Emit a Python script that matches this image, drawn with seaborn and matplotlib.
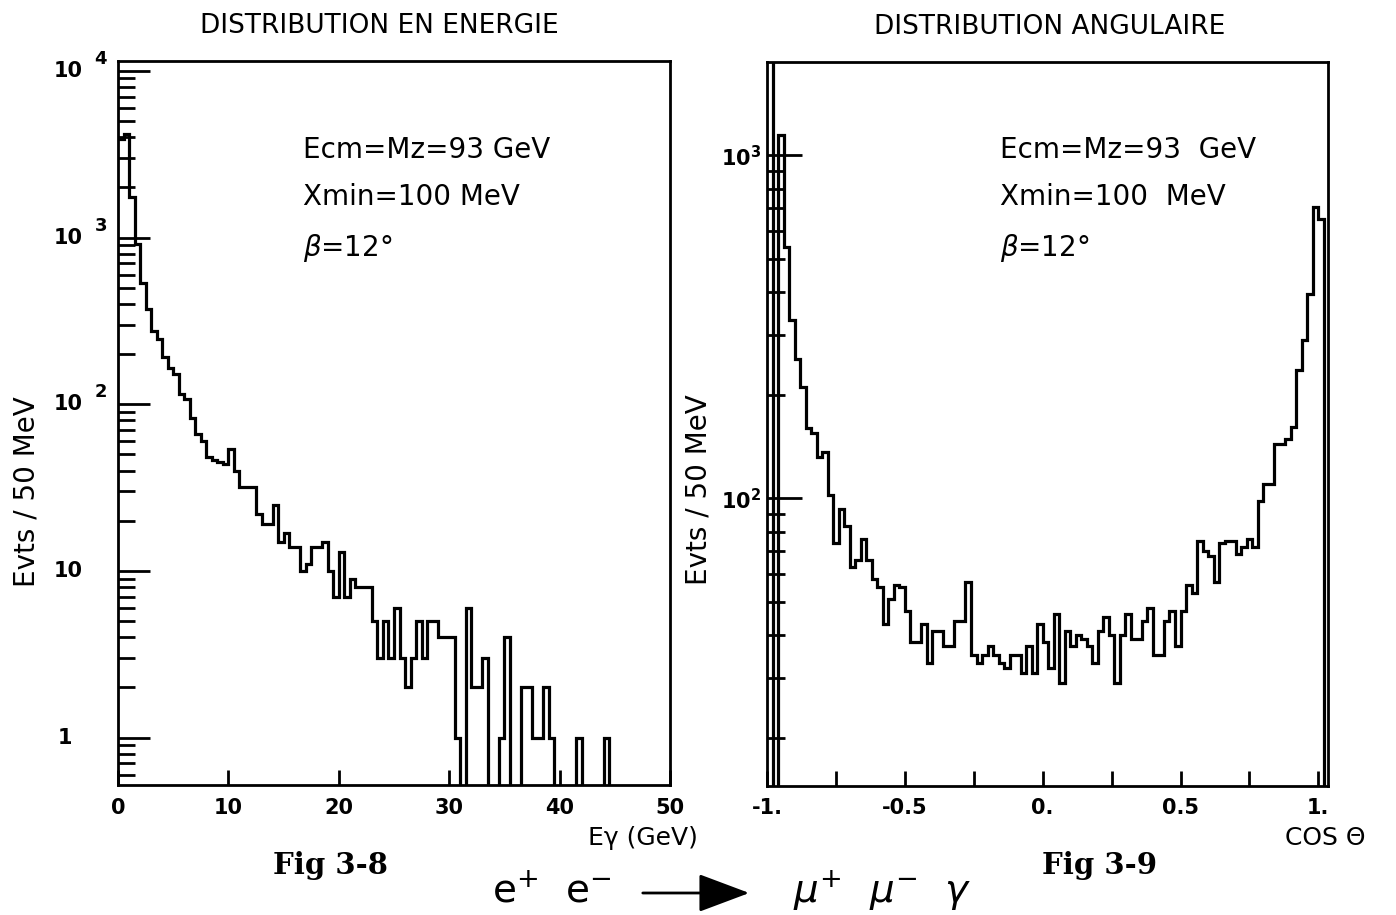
import numpy as np
import pandas as pd
import seaborn as sns
import matplotlib
matplotlib.use("Agg")
import matplotlib.pyplot as plt
from matplotlib import transforms
from matplotlib.ticker import FixedLocator, FixedFormatter, LogLocator, NullFormatter

# ---------------- Fig 3-8 : photon energy spectrum ----------------
energy_lo = 0.0          # GeV, lower edge of first bin
energy_bin_width = 0.5   # GeV
energy_counts = [
    3900, 4200, 1740, 920, 535, 375, 276, 247, 191, 166,
    151, 115, 107, 83, 66, 60, 48, 46, 45, 44,
    54, 40, 32, 32, 32, 22, 19, 19, 25, 15,
    17, 14, 14, 10, 11, 14, 14, 15, 10, 7,
    13, 7, 9, 8, 8, 8, 5, 3, 5, 3,
    6, 3, 2, 3, 5, 3, 5, 5, 4, 4,
    4, 1, 0, 6, 2, 2, 3, 0, 0, 1,
    4, 0, 0, 2, 2, 1, 1, 2, 1, 0,
    0, 0, 0, 1, 0, 0, 0, 0, 1, 0,
    0, 0, 0, 0, 0, 0, 0, 0, 0, 0,
]

# ---------------- Fig 3-9 : photon angular distribution ----------------
cos_lo = -1.0
cos_bin_width = 0.02
cos_counts = [
    3000, 0, 1144, 539, 330, 254, 211, 160, 155, 132,
    136, 102, 74, 93, 83, 63, 66, 76, 66, 58,
    55, 43, 51, 56, 55, 47, 38, 38, 43, 33,
    41, 41, 37, 37, 44, 44, 57, 35, 33, 35,
    37, 35, 33, 32, 35, 35, 31, 37, 31, 43,
    38, 32, 46, 29, 41, 37, 40, 39, 37, 33,
    41, 45, 40, 29, 40, 46, 39, 39, 44, 48,
    35, 35, 44, 47, 37, 47, 56, 53, 75, 70,
    68, 57, 74, 75, 75, 69, 72, 76, 72, 98,
    110, 110, 144, 144, 149, 161, 236, 290, 395, 707,
    654, 0,
]

energy_ticks = [0, 10, 20, 30, 40, 50]
energy_ticklabels = ["0", "10", "20", "30", "40", "50"]
cos_ticks = [-1.0, -0.75, -0.5, -0.25, 0.0, 0.25, 0.5, 0.75, 1.0]
cos_ticklabels = ["-1.", "", "-0.5", "", "0.", "", "0.5", "", "1."]

energy_decades = [1, 10, 100, 1000, 10000]
energy_decade_text = [("1", ""), ("10", ""), ("10", "2"), ("10", "3"), ("10", "4")]
cos_decades = [100, 1000]
cos_decade_text = [r"$10^{2}$", r"$10^{3}$"]

sns.set_style("white")
plt.rcParams["font.family"] = ["DejaVu Sans"]
plt.rcParams["mathtext.fontset"] = "dejavusans"
plt.rcParams["mathtext.default"] = "regular"
for key in ["text.color", "axes.labelcolor", "xtick.color", "ytick.color", "axes.edgecolor"]:
    plt.rcParams[key] = "black"

W, H = 1396, 915
fig = plt.figure(figsize=(W / 100, H / 100), dpi=100)
ax1 = fig.add_axes([118 / W, 1 - 785 / H, 552 / W, 724 / H])
ax2 = fig.add_axes([767 / W, 1 - 786 / H, 561 / W, 724 / H])

LW = 2.3


def draw_hist(ax, lo, width, counts):
    counts = np.asarray(counts, dtype=float)
    edges = (lo + width * np.arange(len(counts) + 1)).tolist()
    centers = [0.5 * (a + b) for a, b in zip(edges[:-1], edges[1:])]
    df = pd.DataFrame({"x": centers, "n": counts})
    sns.histplot(data=df, x="x", weights="n", bins=edges, element="step",
                 fill=False, color="black", linewidth=LW,
                 solid_joinstyle="miter", ax=ax)
    ax.set_yscale("log")


def frame(ax):
    for s in ax.spines.values():
        s.set_visible(True)
        s.set_color("black")
        s.set_linewidth(2.0)
    ax.grid(False)


# ---- left panel ----
draw_hist(ax1, energy_lo, energy_bin_width, energy_counts)
frame(ax1)
ax1.set_xlim(0, 50)
ax1.set_ylim(0.52, 11460)
ax1.yaxis.set_major_locator(FixedLocator(energy_decades))
ax1.yaxis.set_minor_locator(LogLocator(base=10, subs=np.arange(2, 10) * 1.0, numticks=50))
ax1.yaxis.set_major_formatter(NullFormatter())
ax1.yaxis.set_minor_formatter(NullFormatter())
ax1.tick_params(axis="y", which="major", direction="in", length=23, width=2.0,
                left=True, right=False)
ax1.tick_params(axis="y", which="minor", direction="in", length=12, width=2.0,
                left=True, right=False)
ax1.set_xticks(energy_ticks)
ax1.set_xticklabels(energy_ticklabels)
ax1.tick_params(axis="x", which="major", direction="in", length=11, width=2.0,
                bottom=True, top=False, labelsize=15, pad=9)
for t in ax1.get_xticklabels():
    t.set_fontweight("bold")

ylab_tr = transforms.blended_transform_factory(ax1.transAxes, ax1.transData)
expo_tr = transforms.offset_copy(ylab_tr, fig=fig, y=12, units="dots")
for v, (base, expo) in zip(energy_decades, energy_decade_text):
    xpos = -0.083 if base == "1" else -0.064
    ax1.text(xpos, v, base, transform=ylab_tr, ha="right", va="center",
             fontsize=15, fontweight="bold")
    if expo:
        ax1.text(-0.031, v, expo, transform=expo_tr, ha="center", va="center",
                 fontsize=13, fontweight="bold")

ax1.set_ylabel("Evts / 50 MeV", fontsize=20)
ax1.yaxis.set_label_coords(-0.141, 0.405)
ax1.set_xlabel("Eγ (GeV)", fontsize=18)
ax1.xaxis.set_label_coords(0.951, -0.057)

for y, s in [(0.877, "Ecm=Mz=93 GeV"), (0.812, "Xmin=100 MeV"),
             (0.742, r"$\mathit{\beta}$=12°")]:
    ax1.text(0.335, y, s, transform=ax1.transAxes, ha="left", va="center",
             fontsize=20)

# ---- right panel ----
draw_hist(ax2, cos_lo, cos_bin_width, cos_counts)
frame(ax2)
ax2.set_xlim(-1.0, 1.035)
ax2.set_ylim(14.5, 1870)
ax2.yaxis.set_major_locator(FixedLocator(cos_decades))
ax2.yaxis.set_major_formatter(FixedFormatter(cos_decade_text))
ax2.yaxis.set_minor_locator(LogLocator(base=10, subs=np.arange(2, 10) * 1.0, numticks=50))
ax2.yaxis.set_minor_formatter(NullFormatter())
ax2.tick_params(axis="y", which="major", direction="in", length=25, width=2.0,
                left=True, right=False, labelsize=15, pad=4)
ax2.tick_params(axis="y", which="minor", direction="in", length=13, width=2.0,
                left=True, right=False)
ax2.set_xticks(cos_ticks)
ax2.set_xticklabels(cos_ticklabels)
ax2.tick_params(axis="x", which="major", direction="in", length=11, width=2.0,
                bottom=True, top=False, labelsize=15, pad=9)
for t in ax2.get_xticklabels() + ax2.get_yticklabels():
    t.set_fontweight("bold")

ax2.set_ylabel("Evts / 50 MeV", fontsize=20)
ax2.yaxis.set_label_coords(-0.098, 0.41)
ax2.set_xlabel("COS Θ", fontsize=18)
ax2.xaxis.set_label_coords(0.995, -0.055)

for y, s in [(0.878, "Ecm=Mz=93  GeV"), (0.813, "Xmin=100  MeV"),
             (0.743, r"$\mathit{\beta}$=12°")]:
    ax2.text(0.415, y, s, transform=ax2.transAxes, ha="left", va="center",
             fontsize=20)

# ---- titles, figure labels and reaction ----
fig.text(0.272, 0.972, "DISTRIBUTION EN ENERGIE", ha="center", va="center", fontsize=19)
fig.text(0.752, 0.970, "DISTRIBUTION ANGULAIRE", ha="center", va="center", fontsize=19)
fig.text(0.237, 0.054, "Fig 3-8", ha="center", va="center", fontsize=21,
         family="DejaVu Serif", fontweight="bold")
fig.text(0.788, 0.054, "Fig 3-9", ha="center", va="center", fontsize=21,
         family="DejaVu Serif", fontweight="bold")

fig.text(0.395, 0.026, r"$e^{+}\ \ e^{-}$", ha="center", va="center", fontsize=28)
fig.text(0.632, 0.026, r"$\mathit{\mu}^{+}\ \ \mathit{\mu}^{-}\ \ \mathit{\gamma}$",
         ha="center", va="center", fontsize=28)
fig.patches.append(matplotlib.patches.FancyArrowPatch(
    (640 / W, 1 - 893 / H), (752 / W, 1 - 893 / H), transform=fig.transFigure,
    arrowstyle="-|>,head_length=1.6,head_width=0.6", mutation_scale=20,
    color="black", linewidth=2.0))

fig.savefig("out.png", dpi=100, facecolor="white")
